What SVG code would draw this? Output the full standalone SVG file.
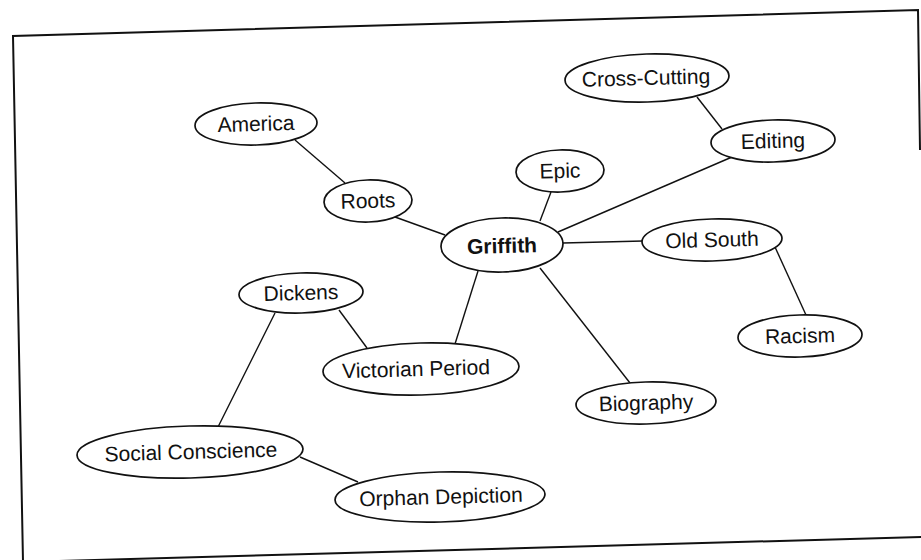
<svg xmlns="http://www.w3.org/2000/svg" width="921" height="560" viewBox="0 0 921 560">
<style>
.n ellipse{fill:#fff;stroke:#111;stroke-width:1.7}
.n text{font-family:"Liberation Sans",Arial,sans-serif;font-size:21px;fill:#111;text-anchor:middle}
.b{font-weight:bold}
.c line{stroke:#111;stroke-width:1.4}
.f{fill:none;stroke:#111;stroke-width:2}
</style>
<rect width="921" height="560" fill="#fff"/>
<g id="frame">
<polyline class="f" points="23,562 13,36 918,10 920,150"/>
<line class="f" x1="23" y1="562" x2="921" y2="537"/>
</g>
<g id="connectors" class="c">
<line x1="295" y1="140" x2="345" y2="183"/>
<line x1="395" y1="217" x2="445" y2="235"/>
<line x1="697" y1="97" x2="722" y2="129"/>
<line x1="732" y1="157" x2="558" y2="232"/>
<line x1="551" y1="192" x2="540" y2="221"/>
<line x1="563" y1="243" x2="643" y2="241"/>
<line x1="775" y1="247" x2="806" y2="315"/>
<line x1="540" y1="268" x2="630" y2="383"/>
<line x1="478" y1="271" x2="455" y2="344"/>
<line x1="339" y1="310" x2="367" y2="348"/>
<line x1="275" y1="313" x2="218" y2="427"/>
<line x1="300" y1="457" x2="358" y2="482"/>
</g>
<g id="cross-cutting" class="n" transform="rotate(-1.6 647 78)"><ellipse cx="647" cy="78" rx="82" ry="24"/><text x="646" y="85">Cross-Cutting</text></g>
<g id="editing" class="n" transform="rotate(-1.6 773 141)"><ellipse cx="773" cy="141" rx="62" ry="21"/><text x="773" y="148">Editing</text></g>
<g id="epic" class="n" transform="rotate(-1.6 560 171)"><ellipse cx="560" cy="171" rx="44" ry="21"/><text x="560" y="178">Epic</text></g>
<g id="america" class="n" transform="rotate(-1.6 256 124)"><ellipse cx="256" cy="124" rx="61" ry="21"/><text x="256" y="131">America</text></g>
<g id="roots" class="n" transform="rotate(-1.6 368 201)"><ellipse cx="368" cy="201" rx="44" ry="21"/><text x="368" y="208">Roots</text></g>
<g id="griffith" class="n" transform="rotate(-1.6 502 245)"><ellipse cx="502" cy="245" rx="61" ry="27"/><text class="b" x="502" y="253">Griffith</text></g>
<g id="old-south" class="n" transform="rotate(-1.6 712 240)"><ellipse cx="712" cy="240" rx="70" ry="21"/><text x="712" y="247">Old South</text></g>
<g id="dickens" class="n" transform="rotate(-1.6 301 293)"><ellipse cx="301" cy="293" rx="62" ry="20"/><text x="301" y="300">Dickens</text></g>
<g id="victorian-period" class="n" transform="rotate(-1.6 421 369)"><ellipse cx="421" cy="369" rx="98" ry="26"/><text x="416" y="376">Victorian Period</text></g>
<g id="racism" class="n" transform="rotate(-1.6 800 336)"><ellipse cx="800" cy="336" rx="62" ry="21"/><text x="800" y="343">Racism</text></g>
<g id="biography" class="n" transform="rotate(-1.6 646 403)"><ellipse cx="646" cy="403" rx="70" ry="21"/><text x="646" y="410">Biography</text></g>
<g id="social-conscience" class="n" transform="rotate(-1.6 190 452)"><ellipse cx="190" cy="452" rx="113" ry="26"/><text x="191" y="459">Social Conscience</text></g>
<g id="orphan-depiction" class="n" transform="rotate(-1.6 440 497)"><ellipse cx="440" cy="497" rx="105" ry="25"/><text x="441" y="504">Orphan Depiction</text></g>
</svg>
